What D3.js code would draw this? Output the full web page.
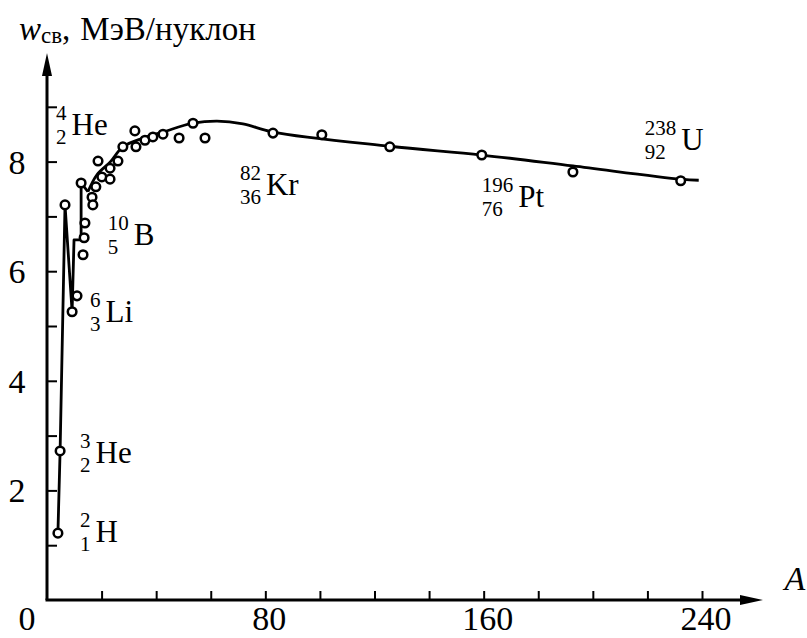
<!DOCTYPE html>
<html>
<head>
<meta charset="utf-8">
<script src="https://cdn.jsdelivr.net/npm/d3@7"></script>
<style>
  html, body { margin: 0; padding: 0; background: #fff; }
  svg { display: block; }
</style>
</head>
<body>
<svg id="chart" width="807" height="638"></svg>
<script>
// ---- data ----
// measured nuclides (mass number A, binding energy per nucleon, MeV)
const pointA = [4.0, 4.8, 6.6, 9.2, 11.0, 13.2, 13.6, 13.9, 12.5, 16.5, 16.8, 17.9, 18.7, 20.1, 23.1, 23.1,
                26.0, 27.8, 32.2, 32.6, 35.9, 38.8, 42.5, 48.4, 53.5, 57.9, 82.8, 100.7, 125.6, 159.3, 192.7, 232.2];
const pointW = [1.22, 2.72, 7.21, 5.26, 5.55, 6.30, 6.61, 6.88, 7.61, 7.35, 7.21, 7.54, 8.01, 7.72, 7.88, 7.68,
                8.01, 8.27, 8.56, 8.27, 8.39, 8.45, 8.50, 8.43, 8.70, 8.43, 8.52, 8.49, 8.27, 8.12, 7.81, 7.65];

// broken line through the light nuclei
const jaggedA = [4.0, 4.8, 6.6, 9.2, 9.9, 12.5, 12.5, 15.0];
const jaggedW = [1.22, 2.72, 7.21, 5.26, 6.57, 6.57, 7.61, 7.45];

// smooth curve
const smoothA = [15.0, 18.3, 23.1, 27.8, 35.2, 42.5, 53.5, 62.3, 71.8, 82.8, 125.6, 159.3, 192.7, 232.2, 238.8];
const smoothW = [7.45, 7.76, 7.99, 8.27, 8.43, 8.54, 8.70, 8.74, 8.69, 8.54, 8.28, 8.12, 7.92, 7.68, 7.66];

// axis ticks
const xTicks = [20, 40, 60, 80, 100, 120, 140, 160, 180, 200, 220, 240];
const xTickLabels = [0, 80, 160, 240];
const yTicks = [1, 2, 3, 4, 5, 6, 7, 8, 9];
const yTickLabels = [2, 4, 6, 8];

// nuclide annotations: symbol, mass number, charge number, anchor (A, w)
const labelSym  = ["He", "B", "Li", "He", "H", "Kr", "Pt", "U"];
const labelMass = ["4", "10", "6", "3", "2", "82", "196", "238"];
const labelZ    = ["2", "5", "3", "2", "1", "36", "76", "92"];
const labelA    = [3.3, 22.3, 15.8, 12.1, 12.1, 70.7, 159.3, 219.0];
const labelW    = [8.49, 6.48, 5.07, 2.50, 1.06, 7.39, 7.17, 8.21];

// ---- pick an installed serif face ----
function pickSerif() {
  const c = document.createElement("canvas").getContext("2d");
  const probe = "МэВ/нуклон Hello 0123456789 mmmwwwiii";
  const width = f => { c.font = "40px " + f; return c.measureText(probe).width; };
  const bases = ["monospace", "sans-serif"].map(width);
  const cands = ["Liberation Serif", "DejaVu Serif", "Noto Serif", "Tinos", "Times New Roman",
                 "FreeSerif", "Nimbus Roman", "Nimbus Roman No9 L", "Noto Serif CJK SC", "Source Han Serif SC", "serif"];
  for (const f of cands) {
    const q = f === "serif" ? f : `"${f}"`;
    const ws = ["monospace", "sans-serif"].map(b => width(`${q}, ${b}`));
    if (Math.abs(ws[0] - bases[0]) > 0.5 && Math.abs(ws[1] - bases[1]) > 0.5) return q;
  }
  return "sans-serif";
}
const serif = pickSerif();

// ---- drawing ----
const svg = d3.select("#chart").attr("font-family", serif);
const x = d3.scaleLinear().domain([0, 240]).range([47, 702]);
const y = d3.scaleLinear().domain([0, 9]).range([600, 600 - 9 * 54.8]);

const ink = "#000";
const symFont = 31, idxFont = 21, tickFont = 34;

// axes lines with arrows
svg.append("line").attr("x1", x(0)).attr("y1", y(0)).attr("x2", x(0)).attr("y2", 70)
  .attr("stroke", ink).attr("stroke-width", 3);
svg.append("path").attr("d", `M${x(0)},53 L${x(0) - 5},76 L${x(0) + 5},76 Z`).attr("fill", ink);

svg.append("line").attr("x1", x(0) - 1.5).attr("y1", y(0)).attr("x2", 745).attr("y2", y(0))
  .attr("stroke", ink).attr("stroke-width", 3);
svg.append("path").attr("d", `M763,${y(0)} L740,${y(0) - 5} L740,${y(0) + 5} Z`).attr("fill", ink);

// ticks via d3 axes (no domain path)
const gx = svg.append("g").attr("transform", `translate(0,${y(0)})`)
  .call(d3.axisBottom(x).tickValues(xTicks).tickSize(-9).tickFormat(""));
gx.select(".domain").remove();
gx.selectAll(".tick line").attr("stroke", ink).attr("stroke-width", 2);

const gy = svg.append("g").attr("transform", `translate(${x(0)},0)`)
  .call(d3.axisRight(y).tickValues(yTicks).tickSize(10).tickFormat(""));
gy.select(".domain").remove();
gy.selectAll(".tick line").attr("stroke", ink).attr("stroke-width", 2);

// tick labels
svg.append("g").selectAll("text").data(yTickLabels).join("text")
  .attr("x", 17).attr("y", d => y(d)).attr("dy", "0.35em")
  .attr("text-anchor", "middle").attr("font-size", tickFont).text(d => d);

svg.append("g").selectAll("text").data(xTickLabels).join("text")
  .attr("x", d => d === 0 ? 27 : x(d) + 4).attr("y", 630)
  .attr("text-anchor", "middle").attr("font-size", tickFont).text(d => d);

// axis titles
const title = svg.append("text").attr("x", 19).attr("y", 40).attr("font-size", 33);
title.append("tspan").attr("font-style", "italic").text("w");
title.append("tspan").attr("font-size", 23).attr("dy", 3).text("св");
title.append("tspan").attr("dy", -3).text(",");
title.append("tspan").attr("dx", 10).text("МэВ/нуклон");

svg.append("text").attr("x", 795).attr("y", 590).attr("text-anchor", "middle")
  .attr("font-size", 34).attr("font-style", "italic").text("A");

// curves
const jagged = d3.range(jaggedA.length).map(i => [jaggedA[i], jaggedW[i]]);
const smooth = d3.range(smoothA.length).map(i => [smoothA[i], smoothW[i]]);

svg.append("path").datum(jagged)
  .attr("d", d3.line().x(d => x(d[0])).y(d => y(d[1])))
  .attr("fill", "none").attr("stroke", ink).attr("stroke-width", 2.8).attr("stroke-linejoin", "round");

svg.append("path").datum(smooth)
  .attr("d", d3.line().x(d => x(d[0])).y(d => y(d[1])).curve(d3.curveCatmullRom.alpha(0.5)))
  .attr("fill", "none").attr("stroke", ink).attr("stroke-width", 2.8);

// points
const pts = d3.range(pointA.length).map(i => [pointA[i], pointW[i]]);
svg.append("g").selectAll("circle").data(pts).join("circle")
  .attr("cx", d => x(d[0])).attr("cy", d => y(d[1])).attr("r", 4.3)
  .attr("fill", "#fff").attr("stroke", ink).attr("stroke-width", 2.5);

// nuclide labels
labelSym.forEach((s, i) => {
  const g = svg.append("g");
  const lx = x(labelA[i]), ly = y(labelW[i]);
  const sup = g.append("text").attr("x", lx).attr("y", ly - 15).attr("font-size", idxFont).text(labelMass[i]);
  const sub = g.append("text").attr("x", lx).attr("y", ly + 9).attr("font-size", idxFont).text(labelZ[i]);
  const w = Math.max(sup.node().getComputedTextLength(), sub.node().getComputedTextLength());
  g.append("text").attr("x", lx + w + 5).attr("y", ly).attr("font-size", symFont).text(s);
});
</script>
</body>
</html>
